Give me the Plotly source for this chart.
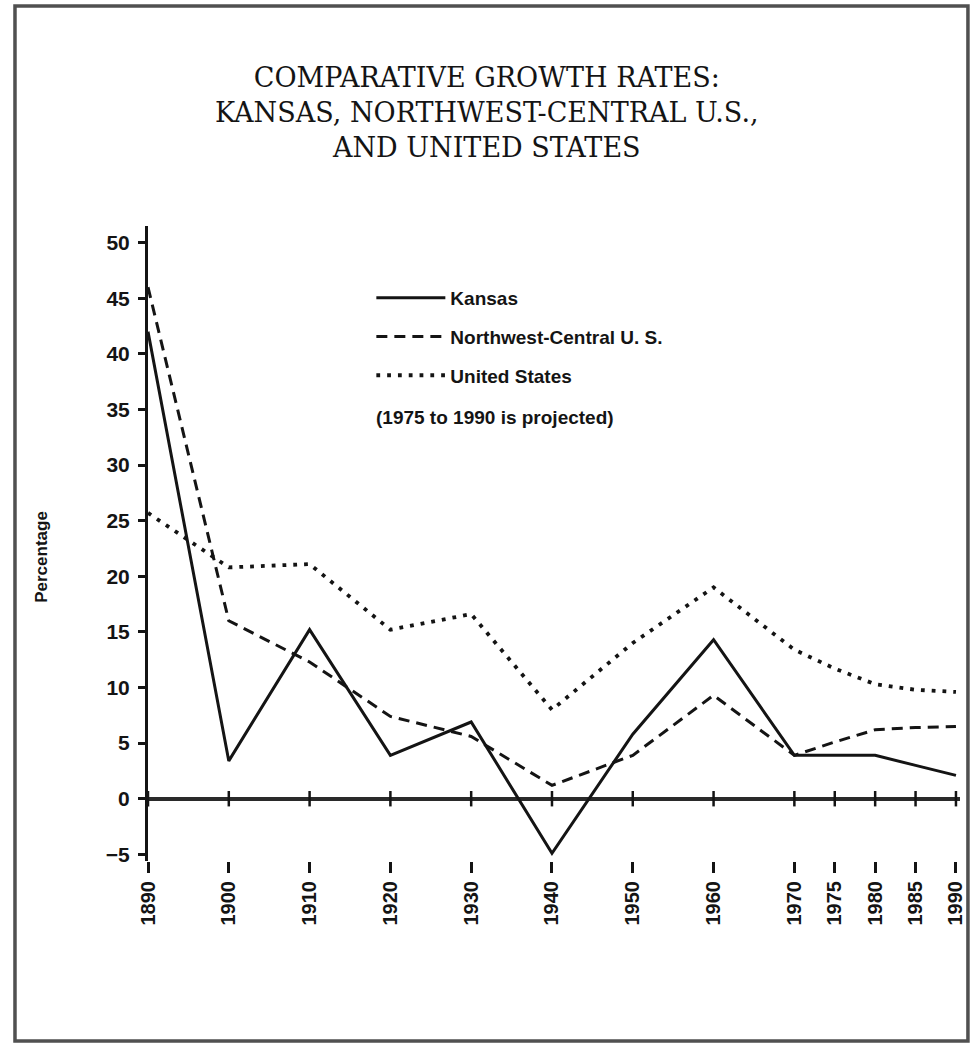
import plotly.graph_objects as go

# ---------------- data ----------------
years = [1890, 1900, 1910, 1920, 1930, 1940, 1950, 1960, 1970, 1975, 1980, 1985, 1990]
kansas = [42.0, 3.4, 15.2, 3.9, 6.9, -4.9, 5.8, 14.3, 3.9, 3.9, 3.9, 3.0, 2.1]
nw_central = [46.0, 16.0, 12.3, 7.4, 5.6, 1.2, 3.9, 9.3, 3.9, 5.1, 6.2, 6.4, 6.5]
united_states = [25.7, 20.8, 21.1, 15.2, 16.6, 8.0, 14.0, 19.0, 13.4, 11.7, 10.3, 9.8, 9.6]
y_ticks = [-5, 0, 5, 10, 15, 20, 25, 30, 35, 40, 45, 50]
x_tick_labels = [str(y) for y in years]
title_lines = ["COMPARATIVE GROWTH RATES:",
               "KANSAS, NORTHWEST-CENTRAL U.S.,",
               "AND UNITED STATES"]

# ---------------- layout geometry ----------------
W, H = 976, 1044
ML, MR, MT, MB = 148, 10, 226, 183
X_RANGE = [1890, 1990.5]
Y_RANGE = [-5.6, 51.5]
PW, PH = W - ML - MR, H - MT - MB


def px_to_paper_x(px):
    return (px - ML) / PW


def px_to_paper_y(py):
    return (H - MB - py) / PH


INK = "#141414"
SANS = "Liberation Sans, Arial, sans-serif"
SERIF = "DejaVu Serif, Liberation Serif, serif"

fig = go.Figure()

fig.add_trace(go.Scatter(
    x=years, y=kansas, mode="lines", name="Kansas",
    line=dict(color=INK, width=3), legendgroup="k"))
fig.add_trace(go.Scatter(
    x=years, y=nw_central, mode="lines", name="Northwest-Central U. S.",
    line=dict(color=INK, width=3, dash="11px,7px"), legendgroup="n"))
fig.add_trace(go.Scatter(
    x=years, y=united_states, mode="lines", name="United States",
    line=dict(color=INK, width=3.8, dash="3.8px,7px"), legendgroup="u"))

# tick marks crossing the zero line
fig.add_trace(go.Scatter(
    x=years, y=[0] * len(years), mode="markers", showlegend=False,
    hoverinfo="skip",
    marker=dict(symbol="line-ns-open", size=11, color=INK,
                line=dict(color=INK, width=2.5))))

fig.add_annotation(
    text="<br>".join(title_lines), xref="paper", yref="paper",
    x=px_to_paper_x(490), y=px_to_paper_y(60),
    xanchor="center", yanchor="top", showarrow=False, align="center",
    font=dict(family=SERIF, size=27, color=INK))

fig.add_annotation(
    text="<b>(1975 to 1990 is projected)</b>",
    xref="paper", yref="paper",
    x=px_to_paper_x(376), y=px_to_paper_y(417),
    xanchor="left", yanchor="middle", showarrow=False,
    font=dict(family=SANS, size=19, color=INK))

fig.add_annotation(
    text="<b>Percentage</b>",
    xref="paper", yref="paper",
    x=px_to_paper_x(40), y=px_to_paper_y(557),
    xanchor="center", yanchor="middle", textangle=-90, showarrow=False,
    font=dict(family=SANS, size=17, color=INK))

# page frame of the scanned sheet
fig.add_shape(type="rect", xref="paper", yref="paper",
              x0=px_to_paper_x(14), x1=px_to_paper_x(974),
              y0=px_to_paper_y(1041), y1=px_to_paper_y(6),
              line=dict(color="#505050", width=3.5), layer="below")

fig.update_layout(
    width=W, height=H,
    margin=dict(l=ML, r=MR, t=MT, b=MB),
    paper_bgcolor="white", plot_bgcolor="white",
    showlegend=True,
    legend=dict(
        x=px_to_paper_x(373), y=px_to_paper_y(279),
        xanchor="left", yanchor="top",
        bgcolor="rgba(0,0,0,0)",
        font=dict(family=SANS, size=19, color=INK, weight="bold"),
        tracegroupgap=11, itemwidth=69),
    xaxis=dict(
        range=X_RANGE, tickmode="array", tickvals=years, ticktext=x_tick_labels,
        tickangle=-90, ticks="outside", ticklen=11, tickwidth=3, tickcolor=INK,
        showline=False, showgrid=False, zeroline=False,
        tickfont=dict(family=SANS, size=20, color=INK, weight="bold")),
    yaxis=dict(
        range=Y_RANGE, tickmode="array", tickvals=y_ticks,
        ticktext=[("\u22125" if v < 0 else str(v)) for v in y_ticks],
        ticks="outside", ticklen=7, tickwidth=2.5, tickcolor=INK,
        ticklabelstandoff=4,
        showline=True, linecolor=INK, linewidth=3,
        showgrid=False, zeroline=True, zerolinecolor="#2a2a2a", zerolinewidth=3.5,
        tickfont=dict(family=SANS, size=21, color=INK, weight="bold")),
)

fig.write_html("out.html",
               config={"displayModeBar": False},
               post_script="document.body.style.margin='0';document.body.style.overflow='hidden';")
